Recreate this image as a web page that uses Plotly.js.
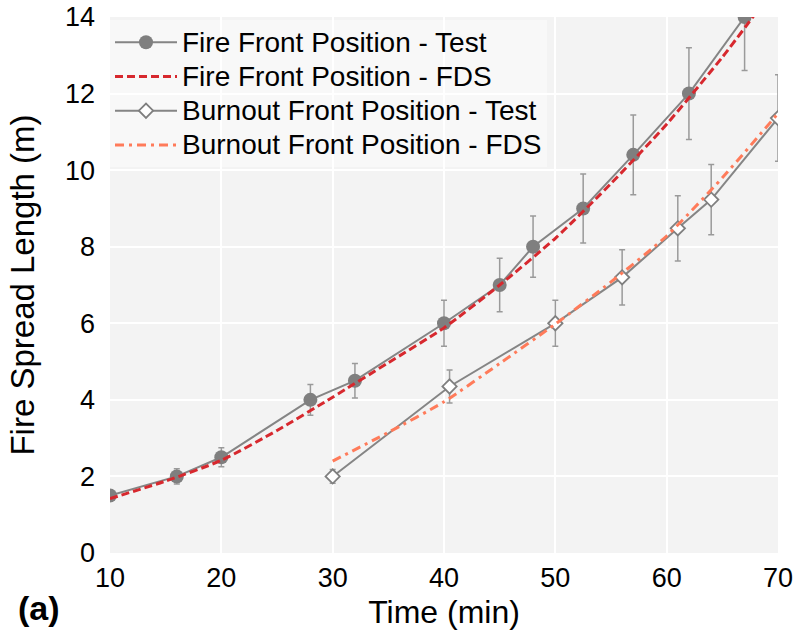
<!DOCTYPE html>
<html>
<head>
<meta charset="utf-8">
<script src="https://cdn.plot.ly/plotly-3.0.1.min.js"></script>
<style>html,body{margin:0;padding:0;background:#fff;}#chart{width:796px;height:638px;}</style>
</head>
<body>
<div id="chart"></div>
<script>
// Data
const fireTestTime = [10, 16, 20, 28, 32, 40, 45, 48, 52.5, 57, 62, 67];
const fireTestPos  = [1.5, 2.0, 2.5, 4.0, 4.5, 6.0, 7.0, 8.0, 9.0, 10.4, 12.0, 14.0];
const fireTestErr  = [0.15, 0.2, 0.25, 0.4, 0.45, 0.6, 0.7, 0.8, 0.9, 1.04, 1.2, 1.4];

const fireFdsTime = [10, 15, 20, 25, 30, 35, 40, 45, 50, 55, 60, 65, 68];
const fireFdsPos  = [1.42, 1.88, 2.42, 3.2, 4.07, 4.97, 5.88, 7.0, 8.22, 9.65, 11.2, 12.95, 14.1];

const burnTestTime = [30, 40.5, 50, 56, 61, 64, 70];
const burnTestPos  = [2.0, 4.35, 6.0, 7.2, 8.48, 9.23, 11.36];
const burnTestErr  = [0.18, 0.43, 0.6, 0.72, 0.85, 0.92, 1.13];

const burnFdsTime = [30, 35, 40, 45, 50, 55, 60, 65, 70];
const burnFdsPos  = [2.4, 3.15, 3.95, 4.95, 5.98, 7.08, 8.28, 9.8, 11.48];

const legendNames = [
  'Fire Front Position - Test',
  'Fire Front Position - FDS',
  'Burnout Front Position - Test',
  'Burnout Front Position - FDS'
];

const FONT = 'Liberation Sans, Arial, sans-serif';
const GRAY = '#858585';
const big = s => '<span style="font-size:28px">' + s + '</span>';

const traces = [
  {
    x: fireTestTime, y: fireTestPos, name: big(legendNames[0]),
    type: 'scatter', mode: 'lines+markers',
    line: {color: GRAY, width: 2},
    marker: {color: '#7f7f7f', size: 14, symbol: 'circle'},
    error_y: {type: 'data', array: fireTestErr, visible: true, color: '#9a9a9a', thickness: 1.5, width: 3}
  },
  {
    x: fireFdsTime, y: fireFdsPos, name: big(legendNames[1]),
    type: 'scatter', mode: 'lines',
    line: {color: '#d7282e', width: 3, dash: '8px,4px', shape: 'spline', smoothing: 0.6}
  },
  {
    x: burnTestTime, y: burnTestPos, name: big(legendNames[2]),
    type: 'scatter', mode: 'lines+markers',
    line: {color: GRAY, width: 2},
    marker: {color: '#ffffff', size: 11, symbol: 'diamond', line: {color: '#7f7f7f', width: 1.8}},
    error_y: {type: 'data', array: burnTestErr, visible: true, color: '#9a9a9a', thickness: 1.5, width: 3}
  },
  {
    x: burnFdsTime, y: burnFdsPos, name: big(legendNames[3]),
    type: 'scatter', mode: 'lines',
    line: {color: '#ff7b5a', width: 3, dash: '9px,5px,3px,5px', shape: 'spline', smoothing: 0.6}
  }
];

const layout = {
  width: 796, height: 638,
  margin: {l: 110, r: 18, t: 17, b: 85},
  paper_bgcolor: '#ffffff',
  plot_bgcolor: '#f3f3f3',
  font: {family: FONT, size: 27, color: '#000000'},
  showlegend: true,
  legend: {
    x: 0, y: 0.994, xanchor: 'left', yanchor: 'top',
    bgcolor: 'rgba(255,255,255,0.45)',
    font: {family: FONT, size: 24, color: '#000000'},
    itemwidth: 62, tracegroupgap: 0, traceorder: 'normal'
  },
  xaxis: {
    range: [10, 70], tickvals: [10, 20, 30, 40, 50, 60, 70],
    showgrid: true, gridcolor: '#ffffff', gridwidth: 2,
    zeroline: false, showline: false, ticks: '',
    ticklabelstandoff: 6,
    tickfont: {family: FONT, size: 27, color: '#000'},
    title: {text: 'Time (min)', font: {family: FONT, size: 32, color: '#000'}, standoff: 8},
    automargin: false
  },
  yaxis: {
    range: [0, 14], tickvals: [0, 2, 4, 6, 8, 10, 12, 14],
    showgrid: true, gridcolor: '#ffffff', gridwidth: 2,
    zeroline: false, showline: false, ticks: '',
    ticklabelstandoff: 14,
    tickfont: {family: FONT, size: 27, color: '#000'},
    title: {text: 'Fire Spread Length (m)', font: {family: FONT, size: 33, color: '#000'}, standoff: 20},
    automargin: false
  },
  annotations: [
    {
      text: '<b>(a)</b>', xref: 'paper', yref: 'paper',
      x: -0.107, y: -0.103, xanchor: 'center', yanchor: 'middle',
      showarrow: false, font: {family: FONT, size: 34, color: '#000'}
    }
  ]
};

Plotly.newPlot('chart', traces, layout, {displayModeBar: false, staticPlot: true});
</script>
</body>
</html>
